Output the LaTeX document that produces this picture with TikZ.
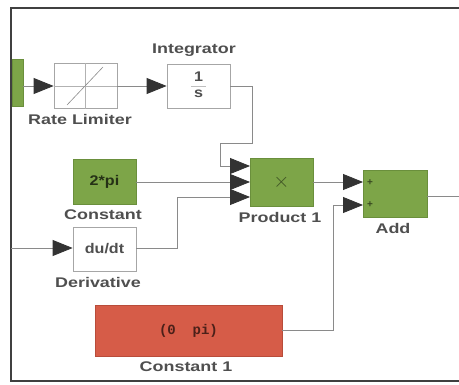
\documentclass[tikz,border=0pt]{standalone}
\usepackage{fontspec}
\setmainfont{Liberation Sans}
\setmonofont{Liberation Mono}
\usetikzlibrary{arrows.meta}
\definecolor{blkgreen}{HTML}{7DA548}
\definecolor{blkgreenedge}{HTML}{6A8F3C}
\definecolor{blkred}{HTML}{D65C48}
\definecolor{blkrededge}{HTML}{B84C3A}
\definecolor{wire}{HTML}{8A8A8A}
\definecolor{lbl}{HTML}{4F4F4F}
\definecolor{tipc}{HTML}{333333}
\newcommand{\lblbox}[1]{\scalebox{1.28}[1]{#1}}
\tikzset{
  whiteblk/.style={draw=black!35, fill=white, line width=0.8pt, inner sep=0pt},
  greenblk/.style={draw=blkgreenedge, fill=blkgreen, line width=0.8pt, inner sep=0pt},
  redblk/.style={draw=blkrededge, fill=blkred, line width=0.8pt, inner sep=0pt},
  blklabel/.style={text=lbl, font=\fontsize{14}{16}\selectfont\bfseries, inner sep=0pt},
  wireline/.style={draw=wire, line width=0.8pt},
  sig/.style={wireline, -{Triangle[length=20pt,width=16pt,color=tipc]}},
  frameline/.style={draw=black!75, line width=1.8pt}
}
\begin{document}
\begin{tikzpicture}[x=1pt,y=-1pt]
\useasboundingbox (0,0) rectangle (459,385);
\fill[white] (0,0) rectangle (459,385);
% frame
\draw[frameline] (459,8) -- (11,8) -- (11,381) -- (459,381);
% blocks
\node[greenblk, minimum width=11pt, minimum height=47pt] (src) at (17.5,82.5) {};
\node[whiteblk, minimum width=63pt, minimum height=45pt] (rl) at (85.5,86) {};
\draw[draw=black!30, line width=0.6pt] (rl.north) -- (rl.south) (rl.west) -- (rl.east);
\draw[draw=black!45, line width=0.6pt] ([shift={(-18.5,19)}]rl.center) -- ([shift={(17.5,-19)}]rl.center);
\node[whiteblk, minimum width=63pt, minimum height=44pt] (int) at (198.5,86) {};
\node[text=lbl, font=\fontsize{14}{16}\selectfont\bfseries, inner sep=0pt] (one) at (198.5,77) {\scalebox{1.15}[1]{1}};
\node[text=lbl, font=\fontsize{14}{16}\selectfont\bfseries, inner sep=0pt] (ess) at (198.5,94) {\scalebox{1.15}[1]{s}};
\draw[draw=black!25, line width=0.6pt] (191,86.5) -- (206,86.5);
\node[greenblk, minimum width=63pt, minimum height=45pt, text=black!70!blkgreen, font=\fontsize{14}{16}\selectfont\bfseries] (cst) at (104.5,181.5) {\scalebox{1.15}[1]{2*pi}};
\node[whiteblk, minimum width=63pt, minimum height=44pt, text=lbl, font=\fontsize{14}{16}\selectfont\bfseries] (der) at (104.5,249) {\scalebox{1.15}[1]{du/dt}};
\node[greenblk, minimum width=63pt, minimum height=48pt, text=black!50!blkgreen, font=\fontsize{20}{22}\selectfont] (prod) at (281.5,182) {$\times$};
\node[greenblk, minimum width=64pt, minimum height=47pt] (add) at (395,193.5) {};
\node[text=black!55!blkgreen, font=\fontsize{10}{11}\selectfont\bfseries, inner sep=0pt] (p1) at (370,183) {+};
\node[text=black!55!blkgreen, font=\fontsize{10}{11}\selectfont\bfseries, inner sep=0pt] (p2) at (370,205) {+};
\node[redblk, minimum width=187pt, minimum height=51pt, text=black!65!blkred, font=\fontsize{14}{16}\selectfont\ttfamily\bfseries] (c1) at (188.5,330.5) {(0\ \ pi)};
% labels
\node[blklabel] (lrl) at (80,119) {\lblbox{Rate Limiter}};
\node[blklabel] (lint) at (194,50) {\lblbox{Integrator}};
\node[blklabel] (lcst) at (103,215) {\lblbox{Constant}};
\node[blklabel] (lder) at (98,282) {\lblbox{Derivative}};
\node[blklabel] (lprod) at (280,217) {\lblbox{Product 1}};
\node[blklabel] (ladd) at (393,228) {\lblbox{Add}};
\node[blklabel] (lc1) at (186,367) {\lblbox{Constant 1}};
% helper coordinates
\coordinate (pin1) at (250,166);
\coordinate (pin2) at (250,182);
\coordinate (pin3) at (250,197);
\coordinate (ain1) at (363,182);
\coordinate (ain2) at (363,205);
\coordinate (derin) at (11,248);
\coordinate (aout) at (459,196);
% connectors
\draw[sig] (src.east |- rl.west) -- (rl.west);
\draw[sig] (rl.east) -- (int.west);
\draw[sig] (int.east) -- (252,86) -- (252,143) -- (220,143) -- (220,166) -- (pin1);
\draw[sig] (cst.east |- pin2) -- (pin2);
\draw[sig] (derin) -- (der.west |- derin);
\draw[sig] (der.east |- derin) -- (177,248) -- (177,197) -- (pin3);
\draw[sig] (prod.east |- ain1) -- (ain1);
\draw[sig] (c1.east) -- (333,330.5) -- (333,205) -- (ain2);
\draw[wireline] (add.east |- aout) -- (aout);
\end{tikzpicture}
\end{document}
